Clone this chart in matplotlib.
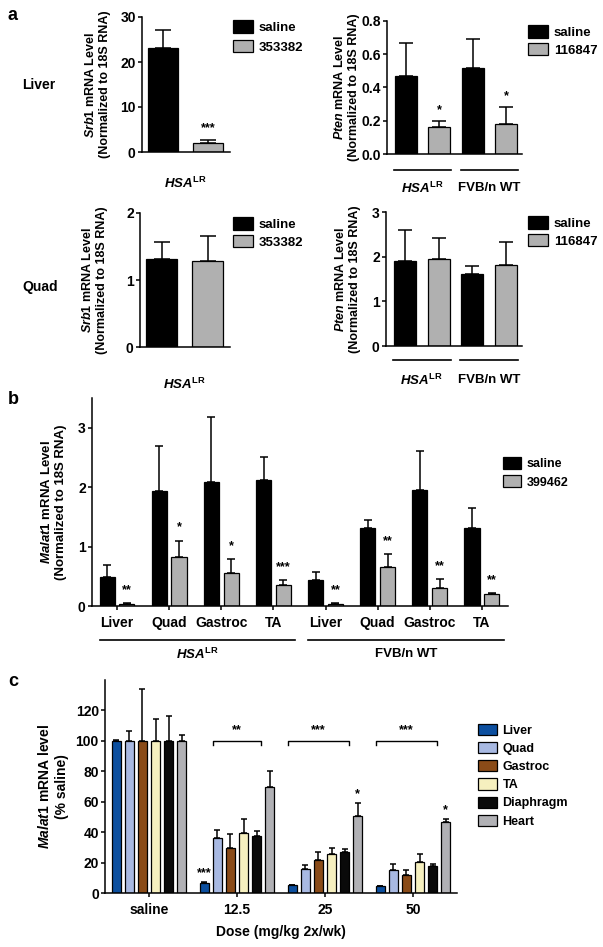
import numpy as np
import matplotlib
matplotlib.use('Agg')
import matplotlib.pyplot as plt
from matplotlib.patches import Patch
from matplotlib.transforms import offset_copy

plt.rcParams['font.family'] = ['Liberation Sans', 'DejaVu Sans']
plt.rcParams['font.weight'] = 'bold'
plt.rcParams['axes.labelweight'] = 'bold'
plt.rcParams['mathtext.fontset'] = 'custom'
plt.rcParams['mathtext.it'] = 'Liberation Sans:italic:bold'
plt.rcParams['mathtext.rm'] = 'Liberation Sans:bold'
plt.rcParams['mathtext.bf'] = 'Liberation Sans:bold'
plt.rcParams['axes.linewidth'] = 1.1
plt.rcParams['xtick.major.width'] = 1.1
plt.rcParams['ytick.major.width'] = 1.1
plt.rcParams['xtick.major.size'] = 3
plt.rcParams['ytick.major.size'] = 3

W, H = 603, 947
SALINE = 'black'
ASO = '#b0b0b0'
HSA = r'$HSA^{\mathrm{LR}}$'

# panel a: Srb1 / Pten knockdown
srb1_liver = [23.1, 2.1]
srb1_liver_err = [4.1, 0.6]
srb1_quad = [1.31, 1.28]
srb1_quad_err = [0.26, 0.38]
pten_liver = [0.47, 0.165, 0.515, 0.18]
pten_liver_err = [0.197, 0.035, 0.175, 0.103]
pten_quad = [1.90, 1.95, 1.61, 1.81]
pten_quad_err = [0.70, 0.47, 0.18, 0.52]
strains = [HSA, 'FVB/n WT']

# panel b: Malat1 in two strains
b_tissues = ['Liver', 'Quad', 'Gastroc', 'TA']
malat1_saline = [0.48, 1.93, 2.08, 2.12, 0.44, 1.32, 1.96, 1.32]
malat1_saline_err = [0.21, 0.77, 1.10, 0.38, 0.14, 0.13, 0.64, 0.33]
malat1_aso = [0.035, 0.83, 0.55, 0.35, 0.04, 0.66, 0.31, 0.21]
malat1_aso_err = [0.01, 0.27, 0.24, 0.09, 0.01, 0.22, 0.14, 0.01]
malat1_aso_sig = ['**', '*', '*', '***', '**', '**', '**', '**']

# panel c: dose response (% saline), rows = tissue, cols = dose
doses = ['saline', '12.5', '25', '50']
tissues = ['Liver', 'Quad', 'Gastroc', 'TA', 'Diaphragm', 'Heart']
tissue_colors = ['#0c4f9f', '#a8b9e2', '#8a4b18', '#f6f0bf', '#0a0a0a', '#b1b1b5']
pct_mean = np.array([
    [100, 6.5, 5.0, 4.3],
    [100, 36.0, 15.9, 15.2],
    [100, 29.9, 21.4, 11.7],
    [100, 39.3, 25.8, 20.7],
    [100, 37.3, 27.0, 17.7],
    [100, 69.4, 50.9, 46.4],
])
pct_err = np.array([
    [0.4, 0.7, 0.3, 0.3],
    [6.3, 5.3, 2.4, 3.8],
    [33.8, 9.0, 5.6, 3.7],
    [14.4, 9.2, 3.7, 4.7],
    [16.6, 3.3, 1.8, 1.5],
    [3.8, 10.6, 8.1, 2.3],
])
bar_sig = [(0, 1, '***'), (5, 2, '*'), (5, 3, '*')]       # (tissue, dose, label)
brackets = [(1, 1, 4, '**'), (2, 0, 4, '***'), (3, 0, 4, '***')]  # (dose, first, last, label)

fig = plt.figure(figsize=(W / 100, H / 100), dpi=100)


def add_ax(x0, y0, x1, y1):
    ax = fig.add_axes([x0 / W, 1 - y1 / H, (x1 - x0) / W, (y1 - y0) / H])
    ax.spines[['top', 'right']].set_visible(False)
    ax.tick_params(labelsize=10, pad=1.5)
    return ax


def below(ax, px):
    return offset_copy(ax.get_xaxis_transform(), fig=fig, x=0, y=-px, units='dots')


def legend(ax, labels, colors, x, y, fs, hl, hh, sp):
    handles = [Patch(facecolor=c, edgecolor='black', linewidth=0.9) for c in colors]
    ax.legend(handles, labels, loc='upper left', bbox_to_anchor=(x / W, 1 - y / H),
              bbox_transform=fig.transFigure, frameon=False, fontsize=fs,
              handlelength=hl, handleheight=hh, handletextpad=0.45,
              labelspacing=sp, borderpad=0, borderaxespad=0)


def star(ax, x, y, text, dy, fs=9):
    ax.annotate(text, (x, y), xytext=(0, dy), textcoords='offset pixels',
                ha='center', va='center', fontsize=fs)


def pair_panel(ax, means, errs, width, cap):
    x = np.arange(len(means))
    colors = [SALINE if i % 2 == 0 else ASO for i in x]
    ax.bar(x, means, width, color=colors, edgecolor='black', linewidth=0.9, zorder=2)
    ax.errorbar(x, means, yerr=[np.zeros(len(x)), errs], fmt='none', ecolor='black',
                elinewidth=1.1, capsize=cap, capthick=1.1, zorder=1)
    ax.set_xticks([])
    return x


# ---- panel a ----
a1 = add_ax(142, 17, 230, 152)
x = pair_panel(a1, srb1_liver, srb1_liver_err, 0.67, 6)
a1.set_xlim(-0.47, 1.49)
a1.set_ylim(0, 30)
a1.set_yticks([0, 10, 20, 30])
a1.set_ylabel(r'$\mathit{Srb1}$ mRNA Level' + '\n(Normalized to 18S RNA)', fontsize=9, labelpad=7)
star(a1, 1, srb1_liver[1] + srb1_liver_err[1], '***', 12)
legend(a1, ['saline', '353382'], [SALINE, ASO], 233, 20, 9.5, 1.5, 1.1, 0.45)
a1.text(0.5, 0, HSA, transform=below(a1, 31), ha='center', va='center', fontsize=9.5)

a2 = add_ax(387, 21, 522, 154)
x = pair_panel(a2, pten_liver, pten_liver_err, 0.66, 5)
a2.set_xlim(-0.57, 3.48)
a2.set_ylim(0, 0.8)
a2.set_yticks([0, 0.2, 0.4, 0.6, 0.8])
a2.set_yticklabels(['0.0', '0.2', '0.4', '0.6', '0.8'])
a2.set_ylabel(r'$\mathit{Pten}$ mRNA Level' + '\n(Normalized to 18S RNA)', fontsize=9, labelpad=1)
for i in [1, 3]:
    star(a2, i, pten_liver[i] + pten_liver_err[i], '*', 11)
legend(a2, ['saline', '116847'], [SALINE, ASO], 528, 25, 9.5, 1.5, 1.1, 0.3)

a3 = add_ax(140, 213, 230, 347)
pair_panel(a3, srb1_quad, srb1_quad_err, 0.67, 6)
a3.set_xlim(-0.47, 1.49)
a3.set_ylim(0, 2)
a3.set_yticks([0, 1, 2])
a3.set_ylabel(r'$\mathit{Srb1}$ mRNA Level' + '\n(Normalized to 18S RNA)', fontsize=9, labelpad=13)
legend(a3, ['saline', '353382'], [SALINE, ASO], 233, 217, 9.5, 1.5, 1.1, 0.3)
a3.text(0.5, 0, HSA, transform=below(a3, 37), ha='center', va='center', fontsize=9.5)

a4 = add_ax(386, 212, 522, 346)
pair_panel(a4, pten_quad, pten_quad_err, 0.66, 5)
a4.set_xlim(-0.57, 3.48)
a4.set_ylim(0, 3)
a4.set_yticks([0, 1, 2, 3])
a4.set_ylabel(r'$\mathit{Pten}$ mRNA Level' + '\n(Normalized to 18S RNA)', fontsize=9, labelpad=8)
legend(a4, ['saline', '116847'], [SALINE, ASO], 528, 216, 9.5, 1.5, 1.1, 0.3)

for ax, line_px, text_px in [(a2, 16, 34), (a4, 14, 34)]:
    for g, name in enumerate(strains):
        ax.plot([2 * g - 0.36, 2 * g + 1.36], [0, 0], color='black', lw=1.2,
                transform=below(ax, line_px), clip_on=False)
        ax.text(2 * g + 0.5, 0, name, transform=below(ax, text_px), ha='center',
                va='center', fontsize=9.5)

fig.text(39 / W, 1 - 85 / H, 'Liver', ha='center', va='center', fontsize=10)
fig.text(40 / W, 1 - 287 / H, 'Quad', ha='center', va='center', fontsize=10)
fig.text(12 / W, 1 - 15 / H, 'a', ha='center', va='center', fontsize=13)

# ---- panel b ----
b = add_ax(92, 398, 508, 606)
pos = np.arange(len(malat1_saline))
b.bar(pos - 0.19, malat1_saline, 0.29, color=SALINE, edgecolor='black', linewidth=0.9, zorder=2)
b.bar(pos + 0.19, malat1_aso, 0.29, color=ASO, edgecolor='black', linewidth=0.9, zorder=2)
b.errorbar(pos - 0.19, malat1_saline, yerr=[np.zeros(len(pos)), malat1_saline_err], fmt='none',
           ecolor='black', elinewidth=1.1, capsize=3, capthick=1.1, zorder=1)
b.errorbar(pos + 0.19, malat1_aso, yerr=[np.zeros(len(pos)), malat1_aso_err], fmt='none',
           ecolor='black', elinewidth=1.1, capsize=3, capthick=1.1, zorder=1)
for p, m, e, s in zip(pos, malat1_aso, malat1_aso_err, malat1_aso_sig):
    star(b, p + 0.19, m + e, s, 13)
b.set_xlim(-0.48, 7.5)
b.set_ylim(0, 3.5)
b.set_yticks([0, 1, 2, 3])
b.set_xticks(pos)
b.set_xticklabels(b_tissues * 2, fontsize=10)
b.tick_params(axis='x', pad=4)
b.set_ylabel(r'$\mathit{Malat1}$ mRNA Level' + '\n(Normalized to 18S RNA)', fontsize=9.5, labelpad=8)
legend(b, ['saline', '399462'], [SALINE, ASO], 503, 457, 9, 1.45, 1.1, 0.4)
for g, name in enumerate(strains):
    lo, hi = 4 * g - 0.33, 4 * g + 3.42
    b.plot([lo, hi], [0, 0], color='black', lw=1.2, transform=below(b, 34), clip_on=False)
    b.text((lo + hi) / 2, 0, name, transform=below(b, 48), ha='center', va='center', fontsize=9.5)
fig.text(13 / W, 1 - 400 / H, 'b', ha='center', va='center', fontsize=13)

# ---- panel c ----
c = add_ax(105, 680, 457, 893)
gpos = np.arange(len(doses))
step, bw = 0.149, 0.10
for i, (name, col) in enumerate(zip(tissues, tissue_colors)):
    xs = gpos + (i - 2.5) * step
    c.bar(xs, pct_mean[i], bw, color=col, edgecolor='black', linewidth=0.9, zorder=2, label=name)
    c.errorbar(xs, pct_mean[i], yerr=[np.zeros(len(gpos)), pct_err[i]], fmt='none',
               ecolor='black', elinewidth=1.1, capsize=2.5, capthick=1.1, zorder=1)
for t, d, s in bar_sig:
    star(c, d + (t - 2.5) * step, pct_mean[t, d] + pct_err[t, d], s, 9)
for d, first, last, s in brackets:
    x0 = d + (first - 2.5) * step - bw / 2
    x1 = d + (last - 2.5) * step + bw / 2
    c.plot([x0, x0, x1, x1], [97, 100, 100, 97], color='black', lw=1.0)
    star(c, (x0 + x1) / 2, 100, s, 11)
c.set_xlim(-0.5, 3.5)
c.set_ylim(0, 140)
c.set_yticks(np.arange(0, 121, 20))
c.set_xticks(gpos)
c.set_xticklabels(doses, fontsize=10)
c.tick_params(axis='x', pad=4)
c.set_xlabel('Dose (mg/kg 2x/wk)', fontsize=10, labelpad=6)
c.set_ylabel(r'$\mathit{Malat1}$ mRNA level' + '\n(% saline)', fontsize=10, labelpad=5)
legend(c, tissues, tissue_colors, 478, 724, 9, 1.5, 1.0, 0.42)
fig.text(13 / W, 1 - 682 / H, 'c', ha='center', va='center', fontsize=13)

fig.savefig('out.png', dpi=100)
